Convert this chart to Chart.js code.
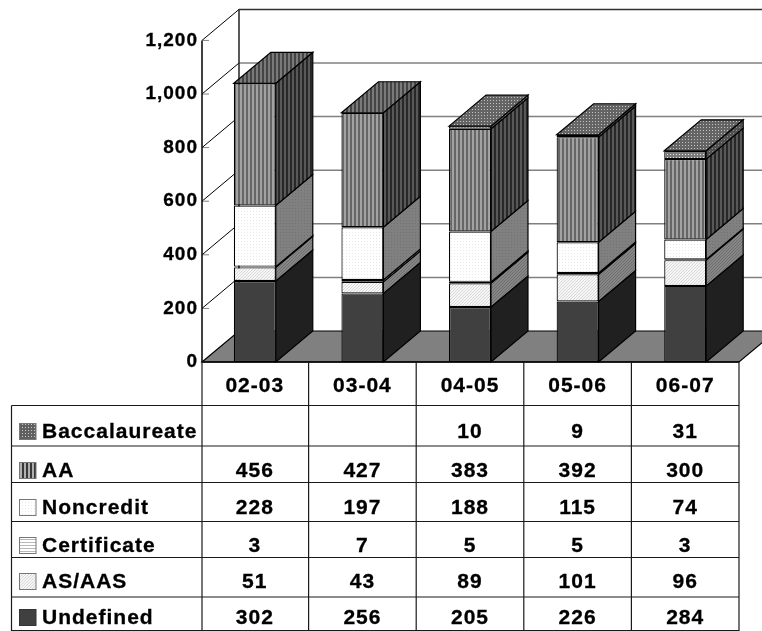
<!DOCTYPE html>
<html>
<head>
<meta charset="utf-8">
<script src="https://cdn.jsdelivr.net/npm/chart.js@4"></script>
<style>html,body{margin:0;padding:0;background:#fff}canvas{display:block}</style>
</head>
<body>
<canvas id="c" width="762" height="631" style="width:762px;height:631px"></canvas>
<script>
const categories = ['02-03','03-04','04-05','05-06','06-07'];
const seriesNames = ['Undefined','AS/AAS','Certificate','Noncredit','AA','Baccalaureate'];
const undefinedValues = [302,256,205,226,284];
const asAasValues = [51,43,89,101,96];
const certificateValues = [3,7,5,5,3];
const noncreditValues = [228,197,188,115,74];
const aaValues = [456,427,383,392,300];
const baccalaureateValues = [null,null,10,9,31];
const seriesValues = [undefinedValues,asAasValues,certificateValues,noncreditValues,aaValues,baccalaureateValues];

// layout (not data)
const DX = 37, DY = -31;
const tableRowLines = [405.5,446,482.5,521.5,557.5,597,630.5];
const tableBaselines = [438,477,514,552,588,624]; // top row first
const FONT = 'bold 21px "Liberation Sans", Arial, sans-serif';

function pat(w,h,draw){
  const c=document.createElement('canvas');c.width=w;c.height=h;
  const x=c.getContext('2d');draw(x);
  return x.createPattern(c,'repeat');
}
const vstripe=(a,b)=>pat(4,4,x=>{x.fillStyle=a;x.fillRect(0,0,4,4);x.fillStyle=b;x.fillRect(2,0,2,4);});
const hstripe=(a,b)=>pat(3,3,x=>{x.fillStyle=a;x.fillRect(0,0,3,3);x.fillStyle=b;x.fillRect(0,2,3,1);});
const dots=(a,b)=>pat(3,3,x=>{x.fillStyle=a;x.fillRect(0,0,3,3);x.fillStyle=b;x.fillRect(1,1,1,1);});
const diag=(a,b)=>pat(3,3,x=>{x.fillStyle=a;x.fillRect(0,0,3,3);x.fillStyle=b;[[0,2],[1,1],[2,0]].forEach(p=>x.fillRect(p[0],p[1],1,1));});

const frontFills=[
  '#404040',
  diag('#f6f6f6','#d8d8d8'),
  hstripe('#ffffff','#c4c4c4'),
  dots('#ffffff','#e8e8e8'),
  vstripe('#a2a2a2','#666666'),
  dots('#7c7c7c','#e4e4e4')
];
const sideFills=[
  '#202020',
  diag('#868686','#6e6e6e'),
  '#e4e4e4',
  dots('#808080','#727272'),
  vstripe('#585858','#282828'),
  dots('#505050','#909090')
];
const topFills=[
  '#303030',
  '#707070',
  '#a0a0a0',
  '#909090',
  vstripe('#7a7a7a','#444444'),
  dots('#646464','#c4c4c4')
];
const swatchFills=[
  '#404040',
  diag('#f6f6f6','#d8d8d8'),
  hstripe('#ffffff','#b8b8b8'),
  dots('#ffffff','#e8e8e8'),
  vstripe('#b0b0b0','#383838'),
  dots('#606060','#c8c8c8')
];

const wallsPlugin={
  id:'walls',
  beforeDraw(chart){ chart.ctx.letterSpacing='1px'; },
  beforeDatasetsDraw(chart){
    const ctx=chart.ctx,a=chart.chartArea,y=chart.scales.y;
    const yBase=y.getPixelForValue(0);
    ctx.save();
    ctx.beginPath();
    ctx.moveTo(a.left+1,yBase);ctx.lineTo(a.left+1+DX,yBase+DY);ctx.lineTo(a.right+DX,yBase+DY);ctx.lineTo(a.right,yBase);ctx.closePath();
    ctx.fillStyle='#808080';ctx.fill();
    ctx.strokeStyle='#000';ctx.lineWidth=1.2;ctx.stroke();
    y.ticks.forEach(t=>{
      const py=y.getPixelForValue(t.value);
      if(t.value>0){
        ctx.strokeStyle=t.value===y.max?'#303030':'#808080';
        ctx.lineWidth=1.5;
        ctx.beginPath();ctx.moveTo(a.left+1+DX,py+DY);ctx.lineTo(a.right+DX,py+DY);ctx.stroke();
        ctx.strokeStyle='#000';ctx.lineWidth=1;
        ctx.beginPath();ctx.moveTo(a.left+1,py);ctx.lineTo(a.left+1+DX,py+DY);ctx.stroke();
      }
      ctx.strokeStyle='#808080';ctx.lineWidth=1;
      ctx.beginPath();ctx.moveTo(a.left+1,py);ctx.lineTo(a.left+8,py);ctx.stroke();
    });
    ctx.strokeStyle='#000';ctx.lineWidth=1.5;
    ctx.beginPath();ctx.moveTo(a.left+1,y.getPixelForValue(y.max));ctx.lineTo(a.left+1,yBase);ctx.stroke();
    ctx.strokeStyle='#222';
    ctx.beginPath();ctx.moveTo(a.left+1+DX,y.getPixelForValue(y.max)+DY);ctx.lineTo(a.left+1+DX,yBase+DY);ctx.stroke();
    ctx.restore();
  },
  afterDatasetsDraw(chart){
    const ctx=chart.ctx;
    ctx.save();
    ctx.strokeStyle='#000';ctx.lineWidth=1.2;ctx.lineJoin='miter';
    categories.forEach((_,j)=>{
      let top=-1;
      chart.data.datasets.forEach((ds,i)=>{
        if(ds.data[j]==null) return;
        top=i;
        const el=chart.getDatasetMeta(i).data[j],r=el.x+el.width/2;
        ctx.beginPath();
        ctx.moveTo(r,el.base);ctx.lineTo(r,el.y);ctx.lineTo(r+DX,el.y+DY);ctx.lineTo(r+DX,el.base+DY);ctx.closePath();
        ctx.fillStyle=sideFills[i];ctx.fill();ctx.stroke();
      });
      const el=chart.getDatasetMeta(top).data[j],l=el.x-el.width/2,r=el.x+el.width/2;
      ctx.beginPath();
      ctx.moveTo(l,el.y);ctx.lineTo(l+DX,el.y+DY);ctx.lineTo(r+DX,el.y+DY);ctx.lineTo(r,el.y);ctx.closePath();
      ctx.fillStyle=topFills[top];ctx.fill();ctx.stroke();
    });
    ctx.restore();
  },
  afterDraw(chart){
    const ctx=chart.ctx,x=chart.scales.x,a=chart.chartArea;
    const yBase=chart.scales.y.getPixelForValue(0);
    const step=(a.right-a.left)/categories.length;
    const tableLeft=11.5;
    ctx.save();
    ctx.strokeStyle='#1a1a1a';ctx.lineWidth=1.2;
    tableRowLines.forEach(ly=>{
      ctx.beginPath();ctx.moveTo(tableLeft,ly);ctx.lineTo(a.right,ly);ctx.stroke();
    });
    ctx.lineWidth=1.5;ctx.strokeStyle='#000';
    ctx.beginPath();ctx.moveTo(a.left+1,yBase);ctx.lineTo(a.right,yBase);ctx.stroke();
    ctx.lineWidth=1.2;ctx.strokeStyle='#1a1a1a';
    ctx.beginPath();ctx.moveTo(tableLeft,tableRowLines[0]);ctx.lineTo(tableLeft,631);ctx.stroke();
    for(let k=0;k<=categories.length;k++){
      const lx=k===0?a.left+1:a.left+k*step;
      ctx.beginPath();ctx.moveTo(lx,yBase);ctx.lineTo(lx,631);ctx.stroke();
    }
    ctx.font=FONT;ctx.letterSpacing='1px';ctx.textBaseline='alphabetic';
    for(let r=0;r<seriesNames.length;r++){
      const i=seriesNames.length-1-r,base=tableBaselines[r];
      ctx.fillStyle=swatchFills[i];ctx.fillRect(19.5,base-14.5,16.5,16);
      ctx.strokeStyle=i===0?'#333':'#777';ctx.lineWidth=1;ctx.strokeRect(19.5,base-14.5,16.5,16);
      ctx.fillStyle='#000';ctx.strokeStyle='#000';ctx.lineWidth=0.3;
      ctx.textAlign='left';
      ctx.fillText(seriesNames[i],42,base);ctx.strokeText(seriesNames[i],42,base);
      ctx.textAlign='center';
      seriesValues[i].forEach((v,j)=>{
        if(v!=null){const p=x.getPixelForTick(j);ctx.fillText(String(v),p,base);ctx.strokeText(String(v),p,base);}
      });
    }
    ctx.restore();
  }
};

new Chart(document.getElementById('c'),{
  type:'bar',
  data:{
    labels:categories,
    datasets:seriesNames.map((n,i)=>({
      label:n,
      data:seriesValues[i],
      backgroundColor:frontFills[i],
      borderColor:'#000',
      borderWidth:1.2,
      borderSkipped:false,
      barPercentage:0.39,
      categoryPercentage:1
    }))
  },
  options:{
    responsive:false,
    animation:false,
    devicePixelRatio:1,
    layout:{padding:{left:0,right:23,top:40.4,bottom:0}},
    plugins:{legend:{display:false},tooltip:{enabled:false},title:{display:false}},
    scales:{
      x:{
        stacked:true,
        grid:{display:false},
        border:{display:false},
        afterFit(s){s.height=631-362;},
        ticks:{color:'#000',font:{family:'"Liberation Sans", Arial, sans-serif',size:21,weight:'bold'},padding:4,maxRotation:0,autoSkip:false,textStrokeColor:'#000',textStrokeWidth:0.3}
      },
      y:{
        stacked:true,
        min:0,max:1200,
        grid:{display:false},
        border:{display:false},
        afterFit(s){s.width=201;},
        ticks:{stepSize:200,color:'#000',font:{family:'"Liberation Sans", Arial, sans-serif',size:19,weight:'bold'},padding:-5,textStrokeColor:'#000',textStrokeWidth:0.3,
          callback:v=>v.toLocaleString('en-US')}
      }
    }
  },
  plugins:[wallsPlugin]
});
</script>
</body>
</html>
